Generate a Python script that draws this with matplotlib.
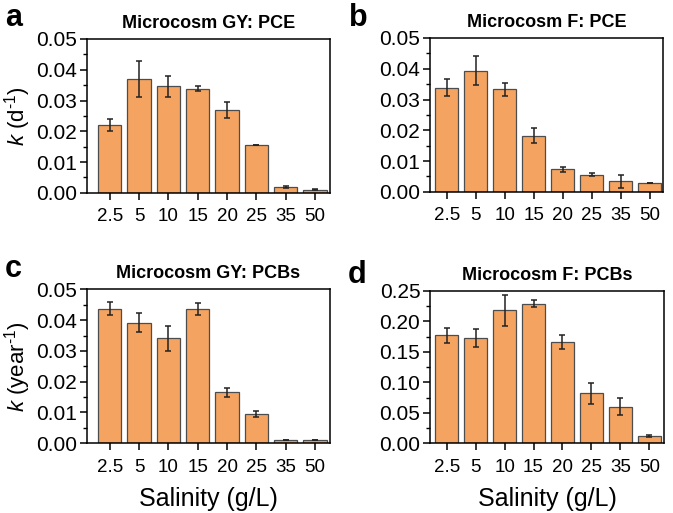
import matplotlib
matplotlib.use('Agg')
import matplotlib.pyplot as plt
from matplotlib.ticker import MultipleLocator, AutoMinorLocator

plt.rcParams['font.family'] = ['Liberation Sans', 'DejaVu Sans']
plt.rcParams['mathtext.fontset'] = 'custom'
plt.rcParams['mathtext.rm'] = 'Liberation Sans'
plt.rcParams['mathtext.it'] = 'Liberation Sans:italic'

salinity = ['2.5', '5', '10', '15', '20', '25', '35', '50']

# panel a: Microcosm GY, PCE (d^-1)
gy_pce = [0.022, 0.0369, 0.0346, 0.0339, 0.0269, 0.0155, 0.0019, 0.0010]
gy_pce_err = [0.0019, 0.0058, 0.0033, 0.0008, 0.0026, 0, 0.0003, 0.0002]

# panel b: Microcosm F, PCE (d^-1)
f_pce = [0.0339, 0.0394, 0.0334, 0.0183, 0.0073, 0.0056, 0.0034, 0.0028]
f_pce_err = [0.0028, 0.0047, 0.0021, 0.0023, 0.0007, 0.0004, 0.0020, 0]

# panel c: Microcosm GY, PCBs (year^-1)
gy_pcb = [0.0437, 0.0392, 0.0341, 0.0437, 0.0165, 0.0094, 0.0010, 0.0010]
gy_pcb_err = [0.0021, 0.0031, 0.0040, 0.0020, 0.0015, 0.0010, 0, 0]

# panel d: Microcosm F, PCBs (year^-1)
f_pcb = [0.177, 0.173, 0.218, 0.229, 0.166, 0.082, 0.060, 0.0115]
f_pcb_err = [0.012, 0.015, 0.026, 0.006, 0.0115, 0.017, 0.014, 0.002]

bar_color = '#F4A460'

fig = plt.figure(figsize=(6.73, 5.13), dpi=100)

# rect, values, errors, title, letter, letter offset (dx, dy), ymax, step, xlim
panels = [
    ([0.129, 0.624, 0.361, 0.300], gy_pce, gy_pce_err, 'Microcosm GY: PCE', 'a', (-0.122, 0.025), 0.05, 0.01, (-0.78, 7.5)),
    ([0.639, 0.626, 0.346, 0.300], f_pce, f_pce_err, 'Microcosm F: PCE', 'b', (-0.12, 0.023), 0.05, 0.01, (-0.58, 7.45)),
    ([0.129, 0.136, 0.361, 0.300], gy_pcb, gy_pcb_err, 'Microcosm GY: PCBs', 'c', (-0.122, 0.024), 0.05, 0.01, (-0.78, 7.5)),
    ([0.639, 0.136, 0.348, 0.297], f_pcb, f_pcb_err, 'Microcosm F: PCBs', 'd', (-0.123, 0.015), 0.25, 0.05, (-0.58, 7.52)),
]

axes = []
for rect, vals, errs, title, letter, (dx, dy), ymax, step, xlim in panels:
    ax = fig.add_axes(rect)
    x = list(range(len(salinity)))
    ax.bar(x, vals, width=0.8, color=bar_color, edgecolor='#4d4d4d', linewidth=0.9,
           yerr=errs, capsize=2.5, error_kw=dict(ecolor='#222222', elinewidth=1.1, capthick=1.1))
    ax.set_xlim(*xlim)
    ax.set_ylim(0, ymax)
    ax.yaxis.set_major_locator(MultipleLocator(step))
    ax.yaxis.set_minor_locator(AutoMinorLocator(2))
    ax.yaxis.set_major_formatter(plt.FormatStrFormatter('%.2f'))
    ax.set_xticks(x)
    ax.set_xticklabels(salinity)
    ax.tick_params(axis='y', which='major', direction='out', length=5, width=1.1, labelsize=15, pad=2)
    ax.tick_params(axis='y', which='minor', direction='out', length=3, width=1.0)
    ax.tick_params(axis='x', direction='out', length=5, width=1.1, labelsize=13.5, pad=6)
    for sp in ax.spines.values():
        sp.set_linewidth(1.1)
    ax.set_title(title, fontsize=13, fontweight='bold', pad=8)
    bbox = ax.get_position()
    fig.text(bbox.x0 + dx, bbox.y1 + dy, letter, fontsize=22, fontweight='bold',
             ha='left', va='baseline')
    axes.append(ax)

axes[0].set_ylabel(r'$k$ (d$^{\text{-1}}$)', fontsize=16)
axes[2].set_ylabel(r'$k$ (year$^{\text{-1}}$)', fontsize=16)
for ax in axes[::2]:
    ax.yaxis.set_label_coords(-0.222, 0.5)
for ax in axes[2:]:
    ax.set_xlabel('Salinity (g/L)', fontsize=18, labelpad=8)

fig.savefig('out.png', dpi=100)
